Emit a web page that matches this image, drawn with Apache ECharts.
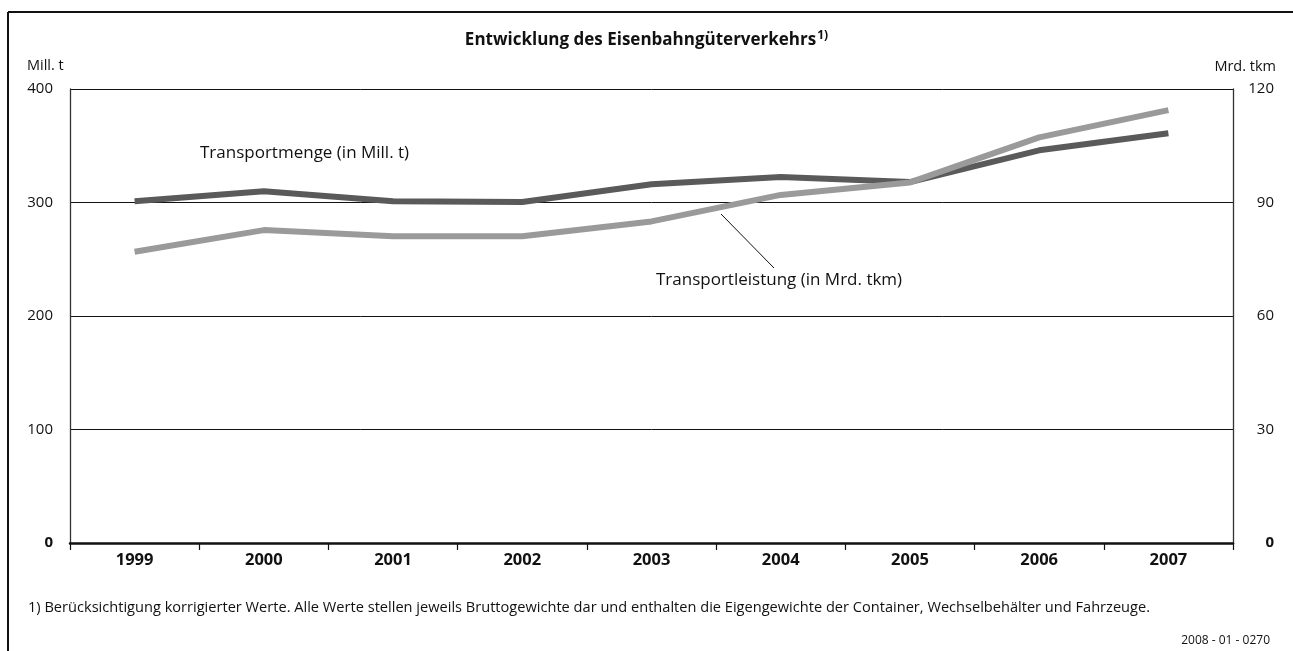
<!DOCTYPE html>
<html>
<head>
<meta charset="utf-8">
<script src="https://cdn.jsdelivr.net/npm/echarts@6/dist/echarts.min.js"></script>
<style>
  html, body { margin: 0; padding: 0; background: #fff; }
  #chart { width: 1293px; height: 651px; }
</style>
</head>
<body>
<div id="chart"></div>
<script>
// Jahre und Werte
var years = ['1999', '2000', '2001', '2002', '2003', '2004', '2005', '2006', '2007']
var transportmenge = [301, 310, 301, 300.5, 316, 322.5, 318, 346, 361]        // Mill. t
var transportleistung = [77.0, 82.7, 81.1, 81.1, 85.0, 92.0, 95.3, 107.2, 114.4] // Mrd. tkm

var leftTicks = { min: 0, max: 400, interval: 100 }
var rightTicks = { min: 0, max: 120, interval: 30 }

var FONT = '"Open Sans", "Noto Sans", sans-serif'

var chart = echarts.init(document.getElementById('chart'))

function zeroBold(v) { return v === 0 ? '{b|0}' : String(v) }

chart.setOption({
  animation: false,
  backgroundColor: '#fff',
  textStyle: { fontFamily: FONT },
  title: {
    text: 'Entwicklung des Eisenbahngüterverkehrs{sup|1)}',
    left: 'center',
    top: 25,
    textStyle: {
      fontFamily: FONT, fontSize: 17, fontWeight: 'bold', color: '#111',
      rich: { sup: { fontSize: 12, fontWeight: 'bold', verticalAlign: 'top', padding: [0, 0, 9, 1], color: '#111' } }
    }
  },
  grid: { left: 70, right: 60, top: 89, bottom: 108 },
  xAxis: {
    type: 'category',
    data: years,
    boundaryGap: true,
    axisLine: { lineStyle: { color: '#111', width: 2.5 } },
    axisTick: { show: true, length: 7, lineStyle: { color: '#111', width: 1.2 } },
    axisLabel: { color: '#111', fontSize: 16.5, fontWeight: 'bold', margin: 9, fontFamily: FONT }
  },
  yAxis: [{
    type: 'value',
    min: leftTicks.min, max: leftTicks.max, interval: leftTicks.interval,
    position: 'left',
    axisLine: { show: true, lineStyle: { color: '#333', width: 1.3 } },
    axisTick: { show: false },
    axisLabel: {
      color: '#111', fontSize: 15, align: 'right', margin: 17, fontFamily: FONT,
      formatter: zeroBold,
      rich: { b: { fontWeight: 'bold', fontSize: 15, color: '#111' } }
    },
    splitLine: { show: true, lineStyle: { color: '#111', width: 1 } }
  }, {
    type: 'value',
    min: rightTicks.min, max: rightTicks.max, interval: rightTicks.interval,
    position: 'right',
    axisLine: { show: true, lineStyle: { color: '#333', width: 1.3 } },
    axisTick: { show: false },
    axisLabel: {
      color: '#111', fontSize: 15, align: 'right', margin: 41, fontFamily: FONT,
      formatter: zeroBold,
      rich: { b: { fontWeight: 'bold', fontSize: 15, color: '#111' } }
    },
    splitLine: { show: false }
  }],
  series: [{
    name: 'Transportmenge (in Mill. t)',
    type: 'line',
    yAxisIndex: 0,
    data: transportmenge,
    symbol: 'none',
    lineStyle: { color: '#5a5a5a', width: 6 },
    z: 3
  }, {
    name: 'Transportleistung (in Mrd. tkm)',
    type: 'line',
    yAxisIndex: 1,
    data: transportleistung,
    symbol: 'none',
    lineStyle: { color: '#9a9a9a', width: 6 },
    z: 4
  }],
  graphic: [
    // Rahmen
    { type: 'line', shape: { x1: 8, y1: 12, x2: 1300, y2: 12 }, style: { stroke: '#111', lineWidth: 2 } },
    { type: 'line', shape: { x1: 8, y1: 12, x2: 8, y2: 660 }, style: { stroke: '#111', lineWidth: 2 } },
    // Achsentitel
    { type: 'text', left: 27, top: 58, style: { text: 'Mill. t', font: '14.5px ' + FONT, fill: '#111' } },
    { type: 'text', right: 17, top: 59, style: { text: 'Mrd. tkm', font: '14.5px ' + FONT, fill: '#111' } },
    // Beschriftungen
    { type: 'text', left: 200, top: 145, style: { text: 'Transportmenge (in Mill. t)', font: '17px ' + FONT, fill: '#111' } },
    { type: 'text', left: 656, top: 272, style: { text: 'Transportleistung (in Mrd. tkm)', font: '17px ' + FONT, fill: '#111' } },
    { type: 'line', shape: { x1: 721, y1: 214, x2: 774, y2: 268 }, style: { stroke: '#111', lineWidth: 1 } },
    // Fußnote
    { type: 'text', left: 28, top: 600, style: { text: '1) Berücksichtigung korrigierter Werte. Alle Werte stellen jeweils Bruttogewichte dar und enthalten die Eigengewichte der Container, Wechselbehälter und Fahrzeuge.', font: '14.6px ' + FONT, fill: '#111' } },
    { type: 'text', right: 23, top: 635, style: { text: '2008 - 01 - 0270', font: '12px ' + FONT, fill: '#111' } }
  ]
})
</script>
</body>
</html>
